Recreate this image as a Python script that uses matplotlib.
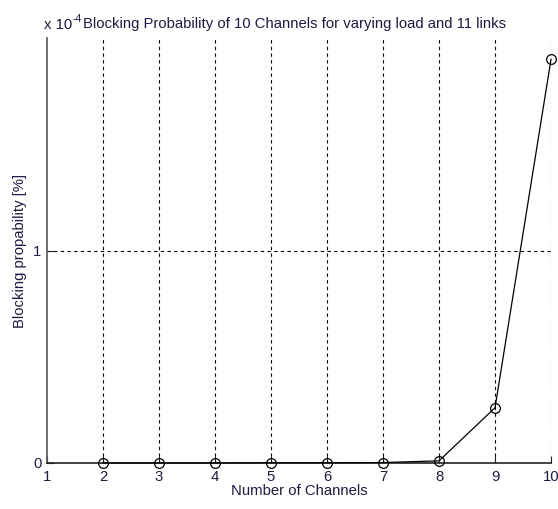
import numpy as np
import matplotlib.pyplot as plt

# Data (blocking probability, absolute values)
channels = [2, 3, 4, 5, 6, 7, 8, 9, 10]
blocking = [0.0, 0.0, 0.0, 1e-7, 1e-7, 2e-7, 1.0e-6, 2.6e-5, 1.9e-4]
xticks = [1, 2, 3, 4, 5, 6, 7, 8, 9, 10]
yticks = [0, 1e-4]
ytick_labels = ['0', '1']

plt.rcParams['font.family'] = ['Liberation Sans', 'DejaVu Sans']
txt_color = '#1c1c44'
fs = 10.7

fig = plt.figure(figsize=(5.58, 5.09), dpi=100)
ax = fig.add_axes([0.0842, 0.0904, 0.9033, 0.8349])

ax.plot(channels, blocking, 'k-', linewidth=0.9, marker='o', markersize=7,
        markerfacecolor='none', markeredgecolor='k', markeredgewidth=0.9,
        clip_on=False, zorder=5)

ax.set_xlim(1, 10)
ax.set_ylim(0, 2e-4)
ax.set_xticks(xticks)
ax.set_yticks(yticks)
ax.set_yticklabels(ytick_labels)

# dashed grid lines like MATLAB's
for x in xticks[1:]:
    ax.axvline(x, color='k', linestyle=(0, (3, 3)), linewidth=0.8, zorder=1)
ax.axhline(1e-4, color='k', linestyle=(0, (3, 3)), linewidth=0.8, zorder=1)

ax.spines['top'].set_visible(False)
ax.spines['right'].set_visible(False)
ax.spines['left'].set_color('#555555')
ax.spines['bottom'].set_color('#222222')
ax.spines['left'].set_linewidth(1.2)
ax.spines['bottom'].set_linewidth(1.2)

ax.tick_params(direction='in', length=5, labelsize=fs, colors='#222222',
               labelcolor=txt_color)
ax.tick_params(axis='x', pad=5)
ax.tick_params(axis='y', pad=4)

ax.set_xlabel('Number of Channels', fontsize=fs, color=txt_color, labelpad=0)
ax.set_ylabel('Blocking propability [%]', fontsize=fs, color=txt_color, labelpad=4)

# MATLAB style exponent label, then the title
fig.text(0.079, 0.943, 'x 10', fontsize=fs, color=txt_color, ha='left', va='baseline')
fig.text(0.1305, 0.957, '-4', fontsize=7.5, color=txt_color, ha='left', va='baseline')
fig.text(0.148, 0.945, 'Blocking Probability of 10 Channels for varying load and 11 links',
         fontsize=fs, color=txt_color, ha='left', va='baseline')

fig.savefig('out.png', dpi=100)
